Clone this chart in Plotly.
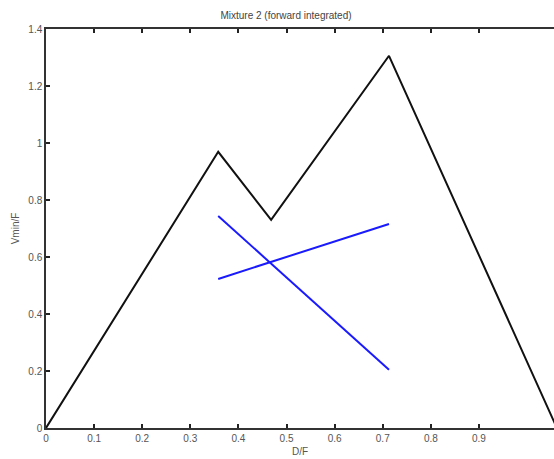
import plotly.graph_objects as go

# Data
boundary_x = [0.0, 0.358, 0.468, 0.713, 1.062]
boundary_y = [0.0, 0.969, 0.730, 1.306, 0.0]

line1_x = [0.358, 0.713]
line1_y = [0.744, 0.204]

line2_x = [0.358, 0.713]
line2_y = [0.523, 0.716]

x_ticks = [0, 0.1, 0.2, 0.3, 0.4, 0.5, 0.6, 0.7, 0.8, 0.9]
x_tick_labels = ["0", "0.1", "0.2", "0.3", "0.4", "0.5", "0.6", "0.7", "0.8", "0.9"]
y_ticks = [0, 0.2, 0.4, 0.6, 0.8, 1.0, 1.2, 1.4]
y_tick_labels = ["0", "0.2", "0.4", "0.6", "0.8", "1", "1.2", "1.4"]

fig = go.Figure()
fig.add_trace(go.Scatter(x=boundary_x, y=boundary_y, mode="lines",
                         line=dict(color="#111111", width=2), showlegend=False))
fig.add_trace(go.Scatter(x=line1_x, y=line1_y, mode="lines",
                         line=dict(color="#1a1aff", width=2), showlegend=False))
fig.add_trace(go.Scatter(x=line2_x, y=line2_y, mode="lines",
                         line=dict(color="#1a1aff", width=2), showlegend=False))

font = dict(family="Liberation Sans, Arial, sans-serif", size=10, color="#555555")

fig.update_layout(
    width=554, height=459,
    margin=dict(l=46, r=0, t=29, b=31),
    paper_bgcolor="white", plot_bgcolor="white",
    title=dict(text="Mixture 2 (forward integrated)", x=286 / 554, xanchor="center",
               y=1 - 15 / 459, yanchor="middle",
               font=dict(family="Liberation Sans, Arial, sans-serif", size=10, color="#444444")),
    font=font,
)
fig.update_xaxes(
    range=[0, 1.056], tickvals=x_ticks, ticktext=x_tick_labels,
    ticks="inside", ticklen=4, tickwidth=1.5, tickcolor="#222222",
    showline=True, linecolor="#333333", linewidth=1.5, mirror="ticks",
    showgrid=False, zeroline=False,
    title=dict(text="D/F", standoff=5, font=font),
    tickfont=font,
)
fig.update_yaxes(
    range=[0, 1.4], tickvals=y_ticks, ticktext=y_tick_labels,
    ticks="inside", ticklen=4, tickwidth=1.5, tickcolor="#222222",
    showline=True, linecolor="#333333", linewidth=1.5, mirror=False,
    showgrid=False, zeroline=False,
    title=dict(text="Vmin/F", standoff=7, font=font),
    tickfont=font,
)

fig.write_html("out.html")
